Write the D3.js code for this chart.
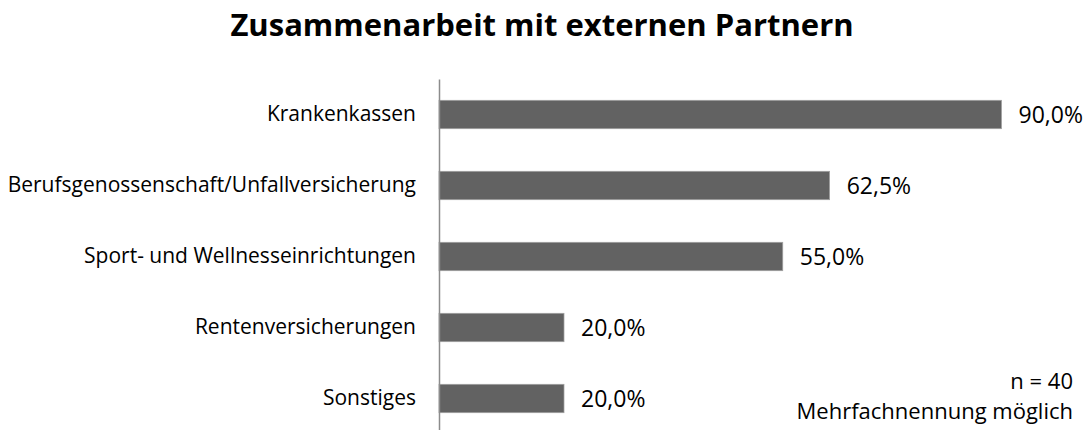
<!DOCTYPE html>
<html>
<head>
<meta charset="utf-8">
<script src="https://cdn.jsdelivr.net/npm/d3@7"></script>
<style>
  body { margin: 0; background: #fff; }
  svg { display: block; font-family: "Open Sans", sans-serif; }
</style>
</head>
<body>
<div id="chart"></div>
<script>
// data
var categories = ["Krankenkassen", "Berufsgenossenschaft/Unfallversicherung", "Sport- und Wellnesseinrichtungen", "Rentenversicherungen", "Sonstiges"];
var shares = [0.90, 0.625, 0.55, 0.20, 0.20];
var title = "Zusammenarbeit mit externen Partnern";
var notes = ["n = 40", "Mehrfachnennung möglich"];

var width = 1085, height = 430;

var svg = d3.select("#chart").append("svg")
    .attr("width", width)
    .attr("height", height);

var x = d3.scaleLinear()
    .domain([0, 1])
    .range([439, 1064]);

var y = d3.scaleBand()
    .domain(categories)
    .range([79, 434])
    .paddingInner(0.6)
    .paddingOuter(0.3);

var fmt = function(v) { return (v * 100).toFixed(1).replace(".", ",") + "%"; };

svg.append("text")
    .attr("x", 542)
    .attr("y", 36)
    .attr("text-anchor", "middle")
    .style("font-size", "31px")
    .style("font-weight", "bold")
    .attr("fill", "#000")
    .text(title);

// bars
svg.selectAll(".bar")
    .data(categories)
    .enter().append("rect")
      .attr("class", "bar")
      .attr("x", x(0))
      .attr("y", function(d) { return y(d); })
      .attr("width", function(d, i) { return x(shares[i]) - x(0); })
      .attr("height", y.bandwidth())
      .attr("fill", "#626262")
      .attr("stroke", "#a0a0a0")
      .attr("stroke-width", 0.75);

// value labels
svg.selectAll(".val")
    .data(categories)
    .enter().append("text")
      .attr("class", "val")
      .attr("x", function(d, i) { return x(shares[i]) + 17; })
      .attr("y", function(d) { return y(d) + y.bandwidth() / 2; })
      .attr("dy", "0.35em")
      .style("font-size", "23px")
      .attr("fill", "#000")
      .text(function(d, i) { return fmt(shares[i]); });

// category axis
var yAxis = svg.append("g")
    .attr("class", "axis axis--y")
    .attr("transform", "translate(" + x(0) + ",0)")
    .call(d3.axisLeft(y).tickSize(0).tickPadding(23));

yAxis.select(".domain")
    .attr("stroke", "#8c8c8c")
    .attr("stroke-width", 1.5);

yAxis.selectAll("text")
    .style("font-size", "21px")
    .style("font-family", "Open Sans, sans-serif")
    .attr("fill", "#000");

// footnote
svg.selectAll(".note")
    .data(notes)
    .enter().append("text")
      .attr("class", "note")
      .attr("x", 1073)
      .attr("y", function(d, i) { return 389 + i * 30; })
      .attr("text-anchor", "end")
      .style("font-size", "22px")
      .attr("fill", "#000")
      .text(function(d) { return d; });
</script>
</body>
</html>
